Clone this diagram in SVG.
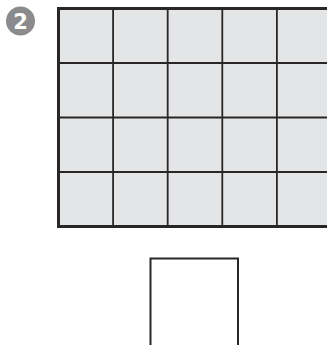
<svg xmlns="http://www.w3.org/2000/svg" width="327" height="345" viewBox="0 0 327 345">
<style>
.outer{fill:#e4e5e7;stroke:#2a2627;stroke-width:3}
.inner{stroke:#2a2627;stroke-width:1.8;fill:none}
.box{fill:#ffffff;stroke:#2a2627;stroke-width:2}
.badge{fill:#8b8b8d}
.num{font-family:"DejaVu Sans",sans-serif;font-weight:bold;font-size:21px;fill:#ffffff}
</style>
<rect width="327" height="345" fill="#ffffff"/>
<g id="badge">
<circle class="badge" cx="20.5" cy="21" r="14.5"/>
<text class="num" x="20.5" y="28.5" text-anchor="middle">2</text>
</g>
<g id="grid">
<rect class="outer" x="58.5" y="8.5" width="273" height="218"/>
<g class="inner">
<line x1="113.1" y1="8.5" x2="113.1" y2="226.5"/>
<line x1="167.7" y1="8.5" x2="167.7" y2="226.5"/>
<line x1="222.3" y1="8.5" x2="222.3" y2="226.5"/>
<line x1="276.9" y1="8.5" x2="276.9" y2="226.5"/>
<line x1="58.5" y1="63" x2="331.5" y2="63"/>
<line x1="58.5" y1="117.5" x2="331.5" y2="117.5"/>
<line x1="58.5" y1="172" x2="331.5" y2="172"/>
</g>
</g>
<g id="box">
<rect class="box" x="150.5" y="258.5" width="87.5" height="100"/>
</g>
<g id="connectors"></g>
</svg>
